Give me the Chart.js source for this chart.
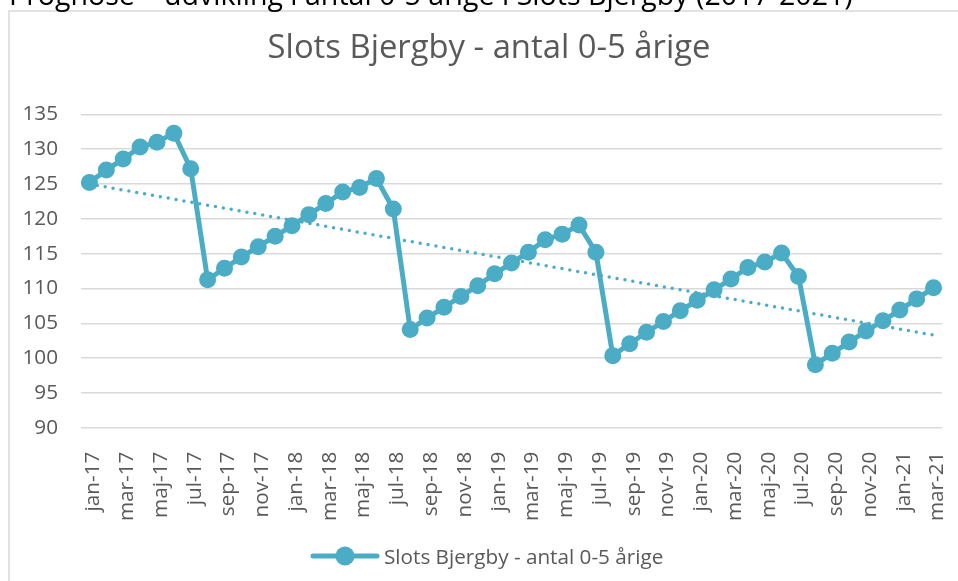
<!DOCTYPE html>
<html><head><meta charset="utf-8">
<script src="https://cdn.jsdelivr.net/npm/chart.js@4.4.0/dist/chart.umd.min.js"></script>
<style>
html,body{margin:0;padding:0;background:#fff;overflow:hidden;width:958px;height:581px}
#wrap{position:absolute;left:0;top:0;width:958px;height:581px}
canvas{display:block}
</style></head><body>
<div id="wrap"><canvas id="c" width="958" height="581"></canvas></div>
<script>
const headerText = 'Prognose \u2013 udvikling i antal 0-5 årige i Slots Bjergby (2017-2021)';
const chartTitle = 'Slots Bjergby - antal 0-5 årige';
const seriesName = 'Slots Bjergby - antal 0-5 årige';

const categories = [
  'jan-17','feb-17','mar-17','apr-17','maj-17','jun-17','jul-17','aug-17','sep-17','okt-17','nov-17','dec-17',
  'jan-18','feb-18','mar-18','apr-18','maj-18','jun-18','jul-18','aug-18','sep-18','okt-18','nov-18','dec-18',
  'jan-19','feb-19','mar-19','apr-19','maj-19','jun-19','jul-19','aug-19','sep-19','okt-19','nov-19','dec-19',
  'jan-20','feb-20','mar-20','apr-20','maj-20','jun-20','jul-20','aug-20','sep-20','okt-20','nov-20','dec-20',
  'jan-21','feb-21','mar-21'
];

const values = [
  125.2, 127.0, 128.6, 130.3, 131.0, 132.3, 127.2, 111.25, 112.9, 114.5, 116.0, 117.5,
  119.0, 120.6, 122.2, 123.85, 124.5, 125.8, 121.4, 104.1, 105.75, 107.3, 108.85, 110.4,
  112.1, 113.65, 115.2, 117.0, 117.8, 119.1, 115.2, 100.35, 102.05, 103.7, 105.25, 106.8,
  108.3, 109.8, 111.35, 113.0, 113.8, 115.1, 111.7, 99.05, 100.7, 102.3, 103.9, 105.35,
  106.9, 108.5, 110.1
];

// linear trendline end values (first and last month)
const trendStart = 125.0;
const trendEnd = 103.3;

const yMin = 90, yMax = 135, yStep = 5;

const trendData = categories.map((c, i) => i === 0 ? trendStart : (i === categories.length - 1 ? trendEnd : null));

const C = '#4BACC6';
const GREY = '#595959';
const FONT = '"Open Sans", "Noto Sans", sans-serif';

const framePlugin = {
  id: 'frame',
  beforeDraw(chart) {
    const ctx = chart.ctx;
    ctx.save();
    ctx.fillStyle = '#fff';
    ctx.fillRect(0, 0, chart.width, chart.height);
    ctx.strokeStyle = '#d9d9d9';
    ctx.lineWidth = 1.5;
    ctx.beginPath();
    ctx.moveTo(9, chart.height + 5);
    ctx.lineTo(9, 11);
    ctx.lineTo(chart.width + 5, 11);
    ctx.stroke();
    ctx.font = '24px ' + FONT;
    const w = ctx.measureText(headerText).width;
    const size = 24 * 844 / w;
    ctx.font = size + 'px ' + FONT;
    ctx.fillStyle = '#000';
    ctx.textBaseline = 'alphabetic';
    ctx.textAlign = 'left';
    ctx.fillText(headerText, 9, 5);
    ctx.restore();
  },
  afterDraw(chart) {
    const ctx = chart.ctx;
    ctx.save();
    ctx.strokeStyle = C;
    ctx.lineWidth = 5;
    ctx.lineCap = 'round';
    ctx.beginPath();
    ctx.moveTo(313, 556);
    ctx.lineTo(377, 556);
    ctx.stroke();
    ctx.fillStyle = C;
    ctx.beginPath();
    ctx.arc(345, 556, 9.5, 0, Math.PI * 2);
    ctx.fill();
    ctx.fillStyle = GREY;
    ctx.font = '20.7px ' + FONT;
    ctx.textBaseline = 'alphabetic';
    ctx.textAlign = 'left';
    ctx.fillText(seriesName, 384, 564);
    ctx.restore();
  }
};

new Chart(document.getElementById('c'), {
  type: 'line',
  data: {
    labels: categories,
    datasets: [
      {
        label: seriesName,
        data: values,
        borderColor: C,
        backgroundColor: C,
        borderWidth: 5,
        pointRadius: 8.5,
        pointBackgroundColor: C,
        pointBorderColor: C,
        pointBorderWidth: 0,
        tension: 0,
        fill: false,
        order: 2,
        yAxisID: 'y'
      },
      {
        label: 'Lineær trend',
        data: trendData,
        borderColor: C,
        borderWidth: 3.5,
        borderDash: [0, 8],
        borderCapStyle: 'round',
        pointRadius: 0,
        spanGaps: true,
        tension: 0,
        fill: false,
        order: 1,
        yAxisID: 'y'
      }
    ]
  },
  options: {
    responsive: false,
    animation: false,
    devicePixelRatio: 1,
    layout: { padding: { left: 20, right: 0, top: 0, bottom: 0 } },
    plugins: {
      legend: { display: false },
      tooltip: { enabled: false },
      title: {
        display: true,
        text: chartTitle,
        color: GREY,
        font: { family: FONT, size: 32.8, weight: 'normal', lineHeight: 1.2 },
        padding: { top: 29, bottom: 46 }
      }
    },
    scales: {
      x: {
        offset: true,
        grid: { display: false, drawTicks: false },
        border: { display: false },
        ticks: {
          autoSkip: false,
          maxRotation: 90,
          minRotation: 90,
          padding: 24,
          labelOffset: 4,
          color: GREY,
          font: { family: FONT, size: 20.7 },
          callback: (v, i) => (i % 2 === 0 ? categories[i] : '')
        },
        afterFit: (s) => { s.height = 153.3; s.paddingLeft = 0; s.paddingRight = 0; }
      },
      y: {
        position: 'left',
        min: yMin,
        max: yMax,
        ticks: { stepSize: yStep, padding: 23, color: GREY, font: { family: FONT, size: 20.7 } },
        grid: { color: '#d9d9d9', lineWidth: 1.5, drawTicks: false },
        border: { display: false },
        afterFit: (s) => { s.width = 61; }
      },
      spacer: {
        type: 'linear',
        position: 'right',
        display: true,
        min: yMin,
        max: yMax,
        grid: { display: false, drawTicks: false },
        border: { display: false },
        ticks: { display: false },
        afterFit: (s) => { s.width = 16; s.paddingTop = 0; s.paddingBottom = 0; }
      }
    }
  },
  plugins: [framePlugin]
});
</script>
</body></html>
